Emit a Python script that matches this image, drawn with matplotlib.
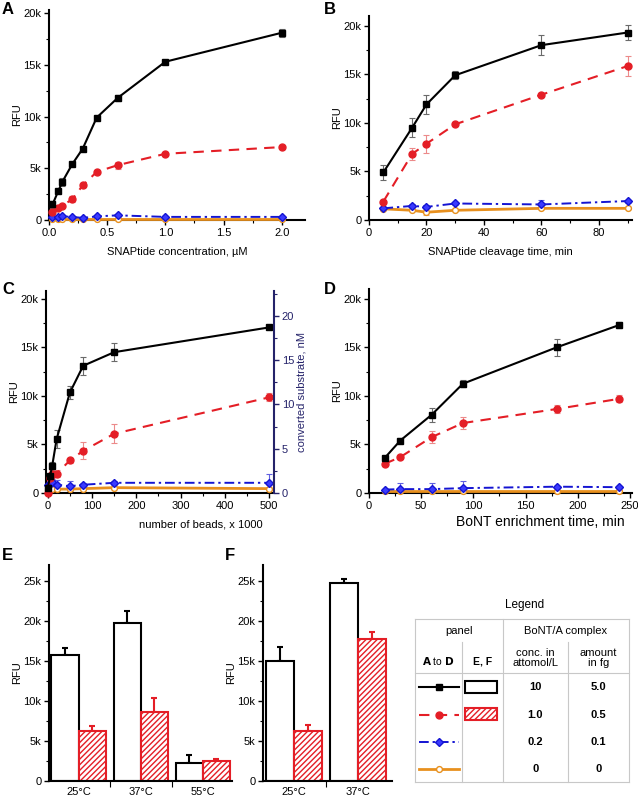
import matplotlib
matplotlib.use("Agg")
import matplotlib.pyplot as plt
from matplotlib.ticker import FuncFormatter, MultipleLocator, FixedLocator
from matplotlib.patches import Rectangle
import numpy as np

plt.rcParams['font.family'] = ['Liberation Sans', 'DejaVu Sans']
plt.rcParams['font.size'] = 8
plt.rcParams['hatch.linewidth'] = 1.0

# ---------------- data ----------------
# Panel A: SNAPtide concentration (µM)
a_x = [0.03, 0.08, 0.115, 0.2, 0.29, 0.41, 0.59, 1.0, 2.0]
a_black = [1500, 2800, 3700, 5400, 6900, 9900, 11800, 15300, 18100]
a_black_err = [300, 200, 400, 200, 150, 150, 300, 150, 400]
a_red = [800, 1200, 1400, 2000, 3350, 4650, 5300, 6400, 7050]
a_red_err = [150, 150, 150, 300, 150, 150, 350, 150, 150]
a_blue = [300, 300, 350, 300, 200, 350, 450, 300, 300]
a_blue_err = [100, 100, 100, 100, 100, 100, 100, 100, 100]
a_orange = [50, 50, 50, 50, 50, 50, 50, 50, 50]
a_orange_err = [50, 50, 50, 50, 50, 50, 50, 50, 50]

# Panel B: SNAPtide cleavage time (min)
b_x = [5, 15, 20, 30, 60, 90]
b_black = [4900, 9500, 11900, 14900, 18000, 19300]
b_black_err = [750, 1000, 1000, 400, 1000, 800]
b_red = [1900, 6800, 7850, 9850, 12900, 15850]
b_red_err = [200, 600, 950, 200, 200, 1000]
b_blue = [1200, 1450, 1350, 1700, 1600, 1950]
b_blue_err = [150, 150, 150, 150, 500, 150]
b_orange = [1150, 1000, 800, 1000, 1200, 1200]
b_orange_err = [100, 100, 300, 100, 100, 100]

# Panel C: number of beads (x 1000)
c_x = [0, 5, 10, 20, 50, 80, 150, 500]
c_black = [500, 1700, 2800, 5550, 10350, 13100, 14500, 17050]
c_black_err = [200, 300, 350, 900, 700, 900, 900, 150]
c_red = [0, 1500, 1950, 2000, 3350, 4350, 6100, 9850]
c_red_err = [100, 400, 400, 400, 300, 900, 1000, 400]
c_blue = [800, 900, 1100, 850, 700, 850, 1050, 1050]
c_blue_err = [300, 300, 300, 500, 500, 200, 200, 900]
c_orange = [300, 400, 450, 400, 400, 450, 550, 450]
c_orange_err = [100, 100, 100, 100, 100, 100, 100, 400]

# Panel D: BoNT enrichment time (min)
d_x = [15, 30, 60, 90, 180, 240]
d_black = [3600, 5400, 8050, 11250, 15000, 17300]
d_black_err = [200, 250, 700, 350, 900, 300]
d_red = [3000, 3700, 5750, 7200, 8650, 9700]
d_red_err = [200, 200, 650, 600, 400, 350]
d_blue = [350, 400, 400, 500, 650, 600]
d_blue_err = [100, 600, 600, 700, 100, 100]
d_orange = [250, 250, 250, 250, 250, 250]
d_orange_err = [50, 50, 50, 50, 50, 50]

# Panels E, F: temperature bars
e_cats = ['25°C', '37°C', '55°C']
e_white = [15800, 19700, 2200]
e_white_err = [800, 1500, 1000]
e_red = [6200, 8600, 2500]
e_red_err = [650, 1800, 200]

f_cats = ['25°C', '37°C']
f_white = [15000, 24700]
f_white_err = [1800, 600]
f_red = [6250, 17700]
f_red_err = [750, 900]

# Legend table
leg_conc = ['10', '1.0', '0.2', '0']
leg_amount = ['5.0', '0.5', '0.1', '0']

# ---------------- styles ----------------
BLACK = '#000000'
RED = '#e41e26'
BLUE = '#1414d2'
ORANGE = '#e8901e'
NAVY = '#25236a'

styles = {
    'black': dict(color=BLACK, ls='-', lw=1.5, marker='s', ms=4.4, mfc=BLACK, mec=BLACK, ecolor='#6a6a6a'),
    'red': dict(color=RED, ls=(0, (5, 3.5)), lw=1.5, marker='o', ms=5, mfc=RED, mec=RED, ecolor='#ec8a8a'),
    'blue': dict(color=BLUE, ls=(0, (5, 2, 1.2, 2)), lw=1.4, marker='D', ms=4, mfc='#3a3aff', mec=BLUE, ecolor='#6060e0'),
    'orange': dict(color=ORANGE, ls='-', lw=2.0, marker='o', ms=4.2, mfc='white', mec=ORANGE, ecolor='#f0b070'),
}

W, H = 638, 797
fig = plt.figure(figsize=(W / 100, H / 100), dpi=100)


def add_ax(left, right, top_px, bottom_px):
    return fig.add_axes([left / W, (H - bottom_px) / H, (right - left) / W, (bottom_px - top_px) / H])


kfmt = FuncFormatter(lambda v, p: '0' if v == 0 else f'{int(round(v / 1000))}k')


def style_ax(ax):
    for s in ['top', 'right']:
        ax.spines[s].set_visible(False)
    ax.spines['left'].set_linewidth(1.5)
    ax.spines['bottom'].set_linewidth(1.5)
    ax.tick_params(which='major', direction='out', length=3.5, width=1.0, labelsize=8, pad=2)
    ax.tick_params(which='minor', direction='out', length=2, width=0.8)
    ax.yaxis.set_major_formatter(kfmt)
    ax.yaxis.set_major_locator(MultipleLocator(5000))
    ax.yaxis.set_minor_locator(MultipleLocator(2500))
    ax.set_ylabel('RFU', fontsize=8, labelpad=1)


def draw_series(ax, x, series):
    for name, y, e in series:
        st = styles[name]
        ax.errorbar(x, y, yerr=e, fmt='none', ecolor=st['ecolor'], elinewidth=0.8, capsize=2, capthick=0.8, zorder=2)
    for name, y, e in series[::-1]:
        st = styles[name]
        ax.plot(x, y, color=st['color'], ls=st['ls'], lw=st['lw'], marker=st['marker'], ms=st['ms'],
                mfc=st['mfc'], mec=st['mec'], mew=1.0, zorder=3, clip_on=False)


# Panel A
axA = add_ax(49, 305, 10, 220)
style_ax(axA)
draw_series(axA, a_x, [('black', a_black, a_black_err), ('red', a_red, a_red_err),
                       ('blue', a_blue, a_blue_err), ('orange', a_orange, a_orange_err)])
axA.set_xlim(0, 2.2)
axA.set_ylim(0, 20300)
axA.xaxis.set_major_locator(FixedLocator([0, 0.5, 1.0, 1.5, 2.0]))
axA.xaxis.set_minor_locator(MultipleLocator(0.25))
axA.xaxis.set_major_formatter(FuncFormatter(lambda v, p: f'{v:.1f}'))
axA.set_xlabel('SNAPtide concentration, µM', fontsize=8, labelpad=7)

# Panel B
axB = add_ax(369, 632, 16, 220)
style_ax(axB)
draw_series(axB, b_x, [('black', b_black, b_black_err), ('red', b_red, b_red_err),
                       ('blue', b_blue, b_blue_err), ('orange', b_orange, b_orange_err)])
axB.set_xlim(0, 91.5)
axB.set_ylim(0, 21000)
axB.xaxis.set_major_locator(MultipleLocator(20))
axB.xaxis.set_minor_locator(MultipleLocator(10))
axB.set_xlabel('SNAPtide cleavage time, min', fontsize=8, labelpad=7)

# Panel C
axC = add_ax(46, 274, 291, 493)
style_ax(axC)
draw_series(axC, c_x, [('black', c_black, c_black_err), ('red', c_red, c_red_err),
                       ('blue', c_blue, c_blue_err), ('orange', c_orange, c_orange_err)])
axC.set_xlim(-4, 511)
axC.set_ylim(0, 20800)
axC.xaxis.set_major_locator(MultipleLocator(100))
axC.xaxis.set_minor_locator(MultipleLocator(50))
axC.set_xlabel('number of beads, x 1000', fontsize=8)
axC.xaxis.set_label_coords(0.68, -0.13)
axC2 = axC.twinx()
for s in ['top', 'left', 'bottom']:
    axC2.spines[s].set_visible(False)
axC2.spines['right'].set_color(NAVY)
axC2.spines['right'].set_linewidth(1.5)
axC2.set_ylim(0, 22.8)
axC2.yaxis.set_major_locator(MultipleLocator(5))
axC2.yaxis.set_minor_locator(MultipleLocator(2.5))
axC2.tick_params(which='major', direction='out', length=3.5, width=1.0, labelsize=8, pad=2,
                 colors=NAVY)
axC2.tick_params(which='minor', direction='out', length=2, width=0.8, colors=NAVY)
axC2.set_ylabel('converted substrate, nM', fontsize=8, color=NAVY, labelpad=2)

# Panel D
axD = add_ax(369, 632, 289, 493)
style_ax(axD)
draw_series(axD, d_x, [('black', d_black, d_black_err), ('red', d_red, d_red_err),
                       ('blue', d_blue, d_blue_err), ('orange', d_orange, d_orange_err)])
axD.set_xlim(0, 252)
axD.set_ylim(0, 21000)
axD.xaxis.set_major_locator(MultipleLocator(50))
axD.xaxis.set_minor_locator(MultipleLocator(25))
axD.set_xlabel('BoNT enrichment time, min', fontsize=10)
axD.xaxis.set_label_coords(0.65, -0.11)


# Panels E, F
def draw_bars(ax, cats, white, white_err, red, red_err):
    x = np.arange(len(cats))
    bw = 0.44
    ax.bar(x - bw / 2, white, width=bw, color='white', edgecolor=BLACK, lw=1.5, zorder=2)
    ax.bar(x + bw / 2, red, width=bw, color='white', edgecolor=RED, hatch='//////', lw=1.5, zorder=2)
    ax.errorbar(x - bw / 2, white, yerr=[np.zeros(len(cats)), white_err], fmt='none', ecolor=BLACK,
                elinewidth=1.5, capsize=2.5, capthick=1.5, zorder=1)
    ax.errorbar(x + bw / 2, red, yerr=[np.zeros(len(cats)), red_err], fmt='none', ecolor=RED,
                elinewidth=1.5, capsize=2.5, capthick=1.5, zorder=1)
    style_ax(ax)
    ax.set_ylim(0, 27000)
    ax.set_xticks(x)
    ax.set_xticklabels(cats, fontsize=8)
    ax.tick_params(axis='x', which='major', length=0, pad=4)
    ax.xaxis.set_minor_locator(FixedLocator(list(np.arange(len(cats) - 1) + 0.5)))
    ax.tick_params(axis='x', which='minor', length=4, width=0.8)


axE = add_ax(49, 232, 565, 781)
draw_bars(axE, e_cats, e_white, e_white_err, e_red, e_red_err)
axE.set_xlim(-0.48, 2.47)

axF = add_ax(263, 392, 565, 781)
draw_bars(axF, f_cats, f_white, f_white_err, f_red, f_red_err)
axF.set_xlim(-0.48, 1.53)

# Panel letters
for lbl, (px, py) in {'A': (2, 10), 'B': (324, 10), 'C': (2, 290), 'D': (324, 290),
                      'E': (2, 555), 'F': (225, 555)}.items():
    fig.text(px / W, 1 - py / H, lbl, fontsize=12, fontweight='bold', va='center', ha='left')

# Legend table (pixel coordinates)
axL = fig.add_axes([0, 0, 1, 1])
axL.set_xlim(0, W)
axL.set_ylim(H, 0)
axL.axis('off')
grid = '#c8c8c8'
x0, x1, x2, x3, x4 = 415, 462, 503, 568, 629
ytop, ysub, yhead, ybot = 619, 642, 673, 782
axL.text(525, 605, 'Legend', ha='center', va='center', fontsize=8.5)
for (xa, ya, xb, yb) in [(x0, ytop, x4, ytop), (x0, yhead, x4, yhead), (x0, ybot, x4, ybot),
                         (x0, ytop, x0, ybot), (x4, ytop, x4, ybot), (x2, ytop, x2, ybot),
                         (x1, ysub, x1, ybot), (x3, ysub, x3, ybot)]:
    axL.plot([xa, xb], [ya, yb], color=grid, lw=0.8)
axL.text((x0 + x2) / 2, 631, 'panel', ha='center', va='center', fontsize=8)
axL.text((x2 + x4) / 2, 631, 'BoNT/A complex', ha='center', va='center', fontsize=8)
axL.text((x0 + x1) / 2, 661, r'$\mathbf{A}$ to $\mathbf{D}$', ha='center', va='center', fontsize=7.5)
axL.text((x1 + x2) / 2, 661, 'E, F', ha='center', va='center', fontsize=7.5, fontweight='bold')
axL.text((x2 + x3) / 2, 658, 'conc. in\nattomol/L', ha='center', va='center', fontsize=8, linespacing=0.95)
axL.text((x3 + x4) / 2, 658, 'amount\nin fg', ha='center', va='center', fontsize=8, linespacing=0.95)
row_y = [687, 715, 742, 769]
for yy, name, conc, amt in zip(row_y, ['black', 'red', 'blue', 'orange'], leg_conc, leg_amount):
    st = styles[name]
    axL.plot([419, 459], [yy, yy], color=st['color'], ls=st['ls'], lw=st['lw'])
    axL.plot([439], [yy], marker=st['marker'], ms=st['ms'], mfc=st['mfc'], mec=st['mec'], mew=1.0, ls='none')
    axL.text((x2 + x3) / 2, yy, conc, ha='center', va='center', fontsize=8, fontweight='bold')
    axL.text((x3 + x4) / 2, yy, amt, ha='center', va='center', fontsize=8, fontweight='bold')
axL.add_patch(Rectangle((465, 681), 32, 12, facecolor='white', edgecolor=BLACK, lw=1.5))
axL.add_patch(Rectangle((465, 708), 32, 12, facecolor='white', edgecolor=RED, hatch='//////', lw=1.5))

fig.savefig('out.png', dpi=100)
